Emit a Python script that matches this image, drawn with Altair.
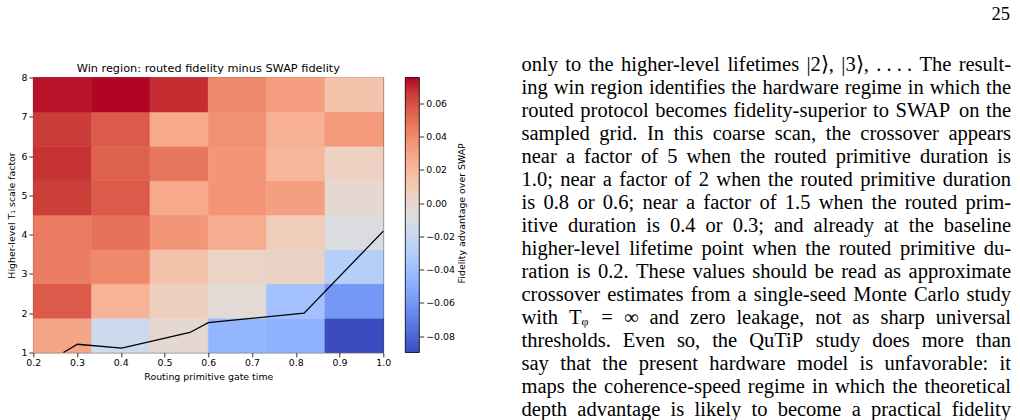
import altair as alt
import pandas as pd
import numpy as np

# ---------------- data ----------------
gate_times = [0.2, 0.3, 0.4, 0.6, 0.8, 1.0]          # columns (routing primitive gate time)
t1_factors = [1, 1.5, 2, 3, 4, 5, 6, 8]              # rows (higher-level T1 scale factor)
# fidelity advantage (routed - SWAP); rows from factor 1 (bottom) to factor 8 (top)
row_f1 = [0.0293, -0.0170, -0.0021, -0.0451, -0.0476, -0.0898]
row_f15 = [0.0566, 0.0227, 0.0061, -0.0038, -0.0385, -0.0600]
row_f2 = [0.0450, 0.0409, 0.0144, 0.0028, 0.0037, -0.0286]
row_f3 = [0.0458, 0.0491, 0.0359, 0.0260, 0.0078, -0.0088]
row_f4 = [0.0649, 0.0566, 0.0276, 0.0367, 0.0318, -0.0021]
row_f5 = [0.0673, 0.0541, 0.0475, 0.0359, 0.0210, 0.0045]
row_f6 = [0.0657, 0.0566, 0.0276, 0.0376, 0.0243, 0.0343]
row_f8 = [0.0731, 0.0756, 0.0682, 0.0409, 0.0326, 0.0144]
advantage = [row_f1, row_f15, row_f2, row_f3, row_f4, row_f5, row_f6, row_f8]

# zero-crossing contour drawn over the map
contour_x = [0.269, 0.301, 0.402, 0.558, 0.600, 0.819, 1.0]
contour_y = [1.0, 1.21, 1.11, 1.51, 1.76, 2.0, 4.09]

x_ticks = [0.2, 0.3, 0.4, 0.5, 0.6, 0.7, 0.8, 0.9, 1.0]
y_ticks = [1, 2, 3, 4, 5, 6, 7, 8]
cbar_ticks = [-0.08, -0.06, -0.04, -0.02, 0.0, 0.02, 0.04, 0.06]

title_text = "Win region: routed fidelity minus SWAP fidelity"
x_title = "Routing primitive gate time"
y_title = "Higher-level T\u2081 scale factor"
cbar_title = "Fidelity advantage over SWAP"

page_number = "25"
paragraph_lines = [
    "only to the higher-level lifetimes |2\u27e9, |3\u27e9, .\u00a0.\u00a0.\u00a0. The result-",
    "ing win region identifies the hardware regime in which the",
    "routed protocol becomes fidelity-superior to SWAP on the",
    "sampled grid. In this coarse scan, the crossover appears",
    "near a factor of 5 when the routed primitive duration is",
    "1.0; near a factor of 2 when the routed primitive duration",
    "is 0.8 or 0.6; near a factor of 1.5 when the routed prim-",
    "itive duration is 0.4 or 0.3; and already at the baseline",
    "higher-level lifetime point when the routed primitive du-",
    "ration is 0.2. These values should be read as approximate",
    "crossover estimates from a single-seed Monte Carlo study",
    "with T\u1d69 = \u221e and zero leakage, not as sharp universal",
    "thresholds. Even so, the QuTiP study does more than",
    "say that the present hardware model is unfavorable: it",
    "maps the coherence-speed regime in which the theoretical",
    "depth advantage is likely to become a practical fidelity",
]

# ---------------- tables ----------------
x_lo, x_hi, y_lo, y_hi = 0.2, 1.0, 1.0, 8.0   # imshow extent
nx, ny = len(gate_times), len(t1_factors)
dx, dy = (x_hi - x_lo) / nx, (y_hi - y_lo) / ny
cells = []
for j, row in enumerate(advantage):
    for i, v in enumerate(row):
        cells.append({"x0": x_lo + i * dx, "x1": x_lo + (i + 1) * dx,
                      "y0": y_lo + j * dy, "y1": y_lo + (j + 1) * dy,
                      "v": v, "gate": gate_times[i], "factor": t1_factors[j]})
cells_df = pd.DataFrame(cells)
line_df = pd.DataFrame({"x0": contour_x, "y0": contour_y, "k": range(len(contour_x))})

vmin = min(min(r) for r in advantage)
vmax = max(max(r) for r in advantage)

coolwarm = ["#3b4cc0", "#4d68d7", "#6282ea", "#779af7", "#8db0fe", "#a3c2fe",
            "#b8d0f9", "#ccd9ee", "#dddddd", "#ecd3c5", "#f5c4ad", "#f7b194",
            "#f49a7b", "#ec7f63", "#de604d", "#cb3e38", "#b40426"]
cdomain = [float(d) for d in np.linspace(vmin, vmax, len(coolwarm))]
cscale = alt.Scale(domain=cdomain, range=coolwarm, interpolate="rgb")

n_ramp = 240
step = (vmax - vmin) / n_ramp
ramp_df = pd.DataFrame({
    "lo": [vmin + k * step for k in range(n_ramp)],
    "hi": [min(vmax, vmin + (k + 1.7) * step) for k in range(n_ramp)],
    "v": [vmin + (k + 0.5) * step for k in range(n_ramp)],
})
outline_df = pd.DataFrame({"lo": [vmin], "hi": [vmax]})

# ---------------- justified paragraph layout (page pixels) ----------------
TW = {' ': 250, '\u00a0': 250, ',': 250, '-': 333, '.': 250, ':': 278, ';': 278, '=': 564,
      '|': 200, '\u27e9': 390, '\u221e': 713, '\u1d69': 430}
for c in "0123456789":
    TW[c] = 500
TW.update({'A': 722, 'B': 667, 'C': 667, 'D': 722, 'E': 611, 'F': 556, 'G': 722, 'H': 722,
           'I': 333, 'J': 389, 'K': 722, 'L': 611, 'M': 889, 'N': 722, 'O': 722, 'P': 556,
           'Q': 722, 'R': 667, 'S': 556, 'T': 611, 'U': 722, 'V': 722, 'W': 944, 'X': 722,
           'Y': 722, 'Z': 611, 'a': 444, 'b': 500, 'c': 444, 'd': 500, 'e': 444, 'f': 333,
           'g': 500, 'h': 500, 'i': 278, 'j': 278, 'k': 500, 'l': 278, 'm': 778, 'n': 500,
           'o': 500, 'p': 500, 'q': 500, 'r': 333, 's': 389, 't': 278, 'u': 500, 'v': 500,
           'w': 722, 'x': 500, 'y': 500, 'z': 444})

FS = 20.5
LEFT, RIGHT = 521.5, 1011.0
BASE0, LEAD = 70.5, 23.03


def text_width(s):
    return sum(TW.get(c, 500) for c in s) / 1000.0 * FS


word_rows = []
for li, line in enumerate(paragraph_lines):
    words = line.split(" ")
    ws = [text_width(w) for w in words]
    gap = (RIGHT - LEFT - sum(ws)) / (len(words) - 1)
    xpos = LEFT
    for k, (w, wpx) in enumerate(zip(words, ws)):
        last = k == len(words) - 1
        word_rows.append({"t": w, "px": RIGHT if last else xpos, "py": BASE0 + li * LEAD,
                          "al": "right" if last else "left"})
        xpos += wpx + gap
words_df = pd.DataFrame(word_rows)
page_df = pd.DataFrame({"t": [page_number], "px": [1010.0], "py": [19.5]})

SANS = "DejaVu Sans"
SERIF = "Liberation Serif"
W, H = 350, 275
PAD_L, PAD_T = 33.3, 77.5

x_scale = alt.Scale(domain=[x_lo, x_hi], nice=False, zero=False)
y_scale = alt.Scale(domain=[y_lo, y_hi], nice=False, zero=False)
ax_common = dict(labelOverlap=False, labelBound=False, labelFlush=False)
x_axis = alt.Axis(values=x_ticks, tickCount=9, format=".1f", title=x_title, titlePadding=5, **ax_common)
y_axis = alt.Axis(values=y_ticks, tickCount=8, format="d", title=y_title, titlePadding=4, **ax_common)

heat = alt.Chart(cells_df).mark_rect(strokeWidth=0.6).encode(
    x=alt.X("x0:Q", scale=x_scale, axis=x_axis),
    x2="x1:Q",
    y=alt.Y("y0:Q", scale=y_scale, axis=y_axis),
    y2="y1:Q",
    color=alt.Color("v:Q", scale=cscale, legend=None),
    stroke=alt.Stroke("v:Q", scale=cscale, legend=None),
)

contour = alt.Chart(line_df).mark_line(color="black", strokeWidth=1.3).encode(
    x=alt.X("x0:Q", scale=x_scale, axis=x_axis),
    y=alt.Y("y0:Q", scale=y_scale, axis=y_axis),
    order="k:Q",
)

main = alt.layer(heat, contour)

cb_scale = alt.Scale(domain=[vmin, vmax], nice=False, zero=False)
cb_axis = alt.Axis(orient="right", offset=36, values=cbar_ticks, tickCount=8, format=".2f",
                   title=None, **ax_common)
cbar = alt.Chart(ramp_df).mark_rect().encode(
    x=alt.value(372), x2=alt.value(386),
    y=alt.Y("lo:Q", scale=cb_scale, axis=cb_axis),
    y2="hi:Q",
    color=alt.Color("v:Q", scale=cscale, legend=None),
)
cbar_outline = alt.Chart(outline_df).mark_rect(fill=None, stroke="black", strokeWidth=0.8).encode(
    x=alt.value(372), x2=alt.value(386),
    y=alt.Y("lo:Q", scale=cb_scale, axis=cb_axis), y2="hi:Q",
)
right = alt.layer(cbar, cbar_outline)

# chart title and colorbar label as text marks (positions relative to the plot area)
title_mark = alt.Chart(page_df).mark_text(
    text=title_text, align="center", baseline="alphabetic", font=SANS, fontSize=11.3,
    color="black"
).encode(x=alt.value(W / 2), y=alt.value(-6))
cbar_label = alt.Chart(page_df).mark_text(
    text=cbar_title, align="center", baseline="middle", font=SANS, fontSize=9.4,
    color="black", angle=270
).encode(x=alt.value(461.7 - PAD_L), y=alt.value(213.3 - PAD_T))

# page text placed with page-pixel scales
px_scale = alt.Scale(domain=[0, 1020], range=[-PAD_L, 1020 - PAD_L], nice=False, zero=False)
py_scale = alt.Scale(domain=[0, 420], range=[-PAD_T, 420 - PAD_T], nice=False, zero=False)
words_left = alt.Chart(words_df).transform_filter(alt.datum.al == "left").mark_text(
    align="left", baseline="alphabetic", font=SERIF, fontSize=FS, color="black"
).encode(text="t:N", x=alt.X("px:Q", scale=px_scale, axis=None),
         y=alt.Y("py:Q", scale=py_scale, axis=None))
words_right = alt.Chart(words_df).transform_filter(alt.datum.al == "right").mark_text(
    align="right", baseline="alphabetic", font=SERIF, fontSize=FS, color="black"
).encode(text="t:N", x=alt.X("px:Q", scale=px_scale, axis=None),
         y=alt.Y("py:Q", scale=py_scale, axis=None))
page = alt.Chart(page_df).mark_text(
    align="right", baseline="alphabetic", font=SERIF, fontSize=18.5, color="black"
).encode(text="t:N", x=alt.X("px:Q", scale=px_scale, axis=None),
         y=alt.Y("py:Q", scale=py_scale, axis=None))
text_layer = alt.layer(words_left, words_right, page)

chart = alt.layer(main, right, title_mark, cbar_label, text_layer).resolve_scale(
    x="independent", y="independent"
).properties(
    width=W, height=H,
    autosize=alt.AutoSizeParams(type="none"),
    padding={"left": PAD_L, "top": PAD_T, "right": 1020 - PAD_L - W, "bottom": 420 - PAD_T - H},
    background="white",
).configure_view(
    stroke="black", strokeWidth=0.8
).configure_axis(
    labelFont=SANS, labelFontSize=9.4, labelColor="black",
    titleFont=SANS, titleFontSize=9.4, titleColor="black", titleFontWeight="normal",
    tickColor="black", tickSize=4.4, tickWidth=0.8, labelPadding=2,
    domain=False, grid=False, labelOverlap=False,
)

chart.save("out.html", embed_options={"renderer": "svg", "actions": False})
